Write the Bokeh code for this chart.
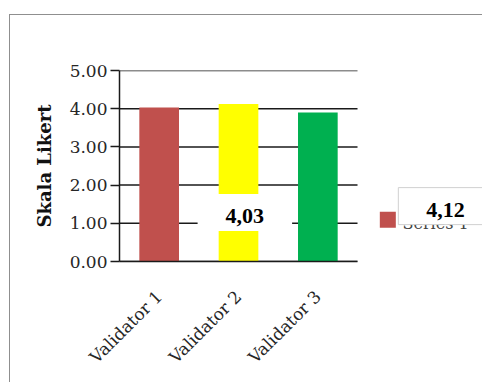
import math
from bokeh.plotting import figure
from bokeh.models import (Range1d, NumeralTickFormatter, FixedTicker,
                          Label, ColumnDataSource)
from bokeh.core.properties import value
from bokeh.embed import file_html
from bokeh.resources import INLINE

categories = ["Validator 1", "Validator 2", "Validator 3"]
values = [4.03, 4.12, 3.90]
bar_colors = ["#C0504D", "#FFFF00", "#00B050"]
y_ticks = [0, 1, 2, 3, 4, 5]
series_name = "Series 1"
y_title = "Skala Likert"

def fmt(v):
    return f"{v:.2f}".replace(".", ",")

n = len(categories)
xpos = [i + 0.5 for i in range(n)]
src = ColumnDataSource(dict(x=xpos, val=values, color=bar_colors))

p = figure(width=473, height=368, x_range=Range1d(0, 4.588),
           y_range=Range1d(0, 5), output_backend="svg", toolbar_location=None,
           min_border_left=109, min_border_right=0, min_border_top=55,
           min_border_bottom=122)
p.margin = (14, 0, 0, 9)
p.styles = {"border-top": "1px solid #8f8f8f", "border-left": "1px solid #8f8f8f"}
p.outline_line_color = None
p.background_fill_color = "white"
p.border_fill_color = "white"

# horizontal gridlines limited to the category area
p.xgrid.grid_line_color = None
p.ygrid.grid_line_color = None
p.segment(x0=[0] * len(y_ticks), x1=[n] * len(y_ticks), y0=y_ticks, y1=y_ticks,
          line_color="#1a1a1a", line_width=1.5)

r = p.vbar(x="x", top="val", width=0.5, fill_color="color", line_color=None, source=src)

# y axis
ya = p.yaxis[0]
ya.ticker = FixedTicker(ticks=y_ticks)
ya.formatter = NumeralTickFormatter(format="0.00")
ya.axis_line_color = "#1a1a1a"
ya.axis_line_width = 1.5
ya.major_tick_line_color = "#1a1a1a"
ya.major_tick_line_width = 1.5
ya.major_tick_out = 9
ya.major_tick_in = 0
ya.minor_tick_line_color = None
ya.major_label_text_font = "DejaVu Serif"
ya.major_label_text_font_size = "17px"
ya.major_label_text_color = "#262626"
ya.major_label_standoff = 3
ya.axis_label = y_title
ya.axis_label_text_font = "DejaVu Serif"
ya.axis_label_text_font_style = "bold"
ya.axis_label_text_font_size = "18px"
ya.axis_label_text_color = "#111111"
ya.axis_label_standoff = 12

# x axis
xa = p.xaxis[0]
xa.ticker = FixedTicker(ticks=xpos)
xa.major_label_overrides = {x: c for x, c in zip(xpos, categories)}
xa.bounds = (0, n)
xa.axis_line_color = "#1a1a1a"
xa.axis_line_width = 1.5
xa.major_tick_line_color = None
xa.minor_tick_line_color = None
xa.major_tick_out = 0
xa.major_label_orientation = math.pi / 4
xa.major_label_text_font = "DejaVu Serif"
xa.major_label_text_font_size = "17px"
xa.major_label_text_color = "#262626"
xa.major_label_standoff = 32

# legend (swatch + text), drawn beneath the data labels
leg_x, leg_y = 3.382, 1.094
p.rect(x=[leg_x], y=[leg_y], width=16, height=16, width_units="screen",
       height_units="screen", fill_color=bar_colors[0], line_color=None)
p.text(x=[leg_x + 0.185], y=[leg_y - 0.1], text=[series_name], text_baseline="middle",
       text_align="left", text_font=value("DejaVu Serif"), text_font_size="16px",
       text_color="#404040")

# data labels (as placed in the reference)
lab1 = Label(x=1.58, y=1.28, text=fmt(values[0]), text_align="center",
             text_baseline="middle", text_font="Liberation Serif",
             text_font_style="bold", text_font_size="22px", text_color="black",
             background_fill_color="white", border_line_color=None,
             padding=(28, 28, 15, 8))
lab2 = Label(x=4.11, y=1.45, text=fmt(values[1]), text_align="center",
             text_baseline="middle", text_font="Liberation Serif",
             text_font_style="bold", text_font_size="22px", text_color="black",
             background_fill_color="white", border_line_color="#d0d0d0",
             border_line_width=1, padding=(28, 28, 15, 8))
p.add_layout(lab1)
p.add_layout(lab2)

open("out.html", "w").write(file_html(p, INLINE))
